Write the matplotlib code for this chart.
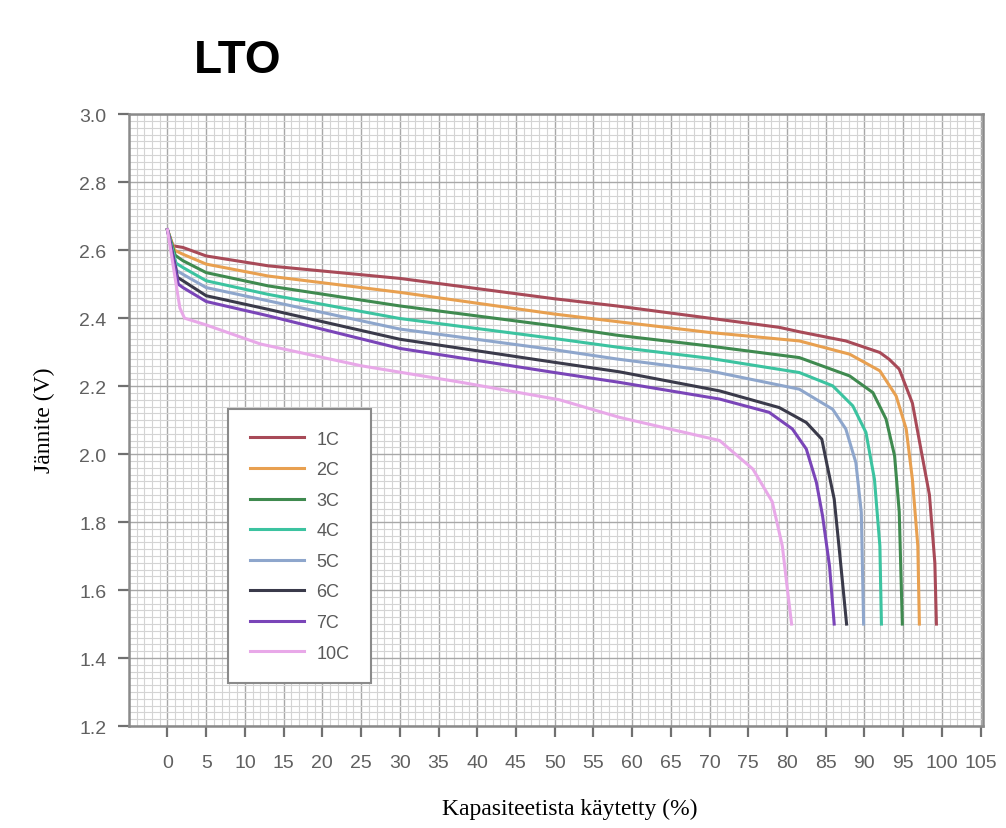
import numpy as np
from matplotlib import pyplot as plt
from matplotlib.ticker import MultipleLocator

# discharge curves, values (x = % capacity used, y = volts)
x_1c = [0, 0.7, 2, 5, 13, 30, 50, 58, 70, 79, 81.6, 87.6, 92.0, 93.2, 94.5, 96.2, 97.5, 98.4, 99.1, 99.3]
y_1c = [2.66, 2.613, 2.608, 2.583, 2.554, 2.517, 2.457, 2.436, 2.40, 2.373, 2.36, 2.333, 2.299, 2.279, 2.25, 2.15, 1.99, 1.88, 1.68, 1.50]

x_2c = [0, 0.9, 2, 5, 13, 30, 50, 58, 70, 81.6, 88.1, 92.0, 94.1, 95.4, 96.2, 96.9, 97.1]
y_2c = [2.66, 2.60, 2.588, 2.559, 2.524, 2.476, 2.412, 2.39, 2.358, 2.333, 2.294, 2.245, 2.171, 2.074, 1.926, 1.73, 1.50]

x_3c = [0, 1.0, 2, 5, 13, 30, 50, 58, 70, 81.6, 88.1, 91.1, 92.8, 93.9, 94.5, 94.9]
y_3c = [2.66, 2.585, 2.569, 2.534, 2.495, 2.436, 2.377, 2.35, 2.318, 2.284, 2.230, 2.181, 2.103, 1.995, 1.83, 1.50]

x_4c = [0, 1.1, 2, 5, 13, 30, 50, 58, 70, 81.6, 85.9, 88.5, 90.2, 91.3, 92.0, 92.2]
y_4c = [2.66, 2.562, 2.549, 2.51, 2.47, 2.399, 2.340, 2.315, 2.282, 2.240, 2.201, 2.142, 2.064, 1.926, 1.73, 1.50]

x_5c = [0, 1.2, 2, 5, 13, 30, 50, 58, 70, 81.6, 85.9, 87.6, 88.9, 89.6, 89.9]
y_5c = [2.66, 2.54, 2.529, 2.49, 2.451, 2.368, 2.307, 2.28, 2.245, 2.191, 2.132, 2.074, 1.975, 1.829, 1.50]

x_6c = [0, 1.3, 2, 5, 13, 30, 50, 58.4, 71.3, 79.0, 82.5, 84.5, 85.2, 86.1, 86.8, 87.7]
y_6c = [2.66, 2.52, 2.510, 2.466, 2.426, 2.338, 2.27, 2.242, 2.186, 2.137, 2.093, 2.044, 1.966, 1.868, 1.71, 1.50]

x_7c = [0, 1.4, 2, 5, 13, 30, 50, 58.4, 71.3, 77.7, 80.7, 82.5, 83.8, 84.6, 85.5, 86.1]
y_7c = [2.66, 2.50, 2.49, 2.449, 2.407, 2.311, 2.24, 2.211, 2.162, 2.123, 2.074, 2.015, 1.917, 1.818, 1.67, 1.50]

x_10c = [0, 1.6, 2.2, 5, 12, 25, 38, 50.6, 58.4, 71.3, 75.6, 78.1, 79.4, 80.1, 80.6]
y_10c = [2.66, 2.43, 2.40, 2.38, 2.324, 2.26, 2.211, 2.16, 2.108, 2.04, 1.956, 1.86, 1.73, 1.594, 1.50]

labels = ['1C', '2C', '3C', '4C', '5C', '6C', '7C', '10C']
colors = ['#a84a58', '#e8a050', '#3f8a4f', '#3cc3a0', '#8ea6cc', '#3a3a4a', '#7a45b8', '#e8a8e8']
xs = [x_1c, x_2c, x_3c, x_4c, x_5c, x_6c, x_7c, x_10c]
ys = [y_1c, y_2c, y_3c, y_4c, y_5c, y_6c, y_7c, y_10c]

plt.rcParams['font.family'] = ['Liberation Sans', 'DejaVu Sans']

fig = plt.figure(figsize=(10.06, 8.29), dpi=100)
ax = fig.add_axes([0.128, 0.123, 0.849, 0.738])

for x, y, c, l in zip(xs, ys, colors, labels):
    ax.plot(x, y, color=c, lw=2.2, label=l, zorder=3, solid_joinstyle='round')

ax.set_xlim(-5, 105.3)
ax.set_ylim(1.2, 3.0)
ax.xaxis.set_minor_locator(MultipleLocator(1))
ax.yaxis.set_minor_locator(MultipleLocator(0.02))
ax.set_xticks(np.arange(0, 106, 5))
ax.set_yticks(np.round(np.arange(1.2, 3.01, 0.2), 1))
ax.yaxis.set_major_formatter(plt.FormatStrFormatter('%.1f'))

ax.grid(which='major', color='#a8a8a8', lw=1.0, zorder=0)
ax.grid(which='minor', color='#d4d4d4', lw=0.8, zorder=0)
ax.set_axisbelow(True)

for s in ax.spines.values():
    s.set_color('#8a8a8a')
    s.set_linewidth(1.8)
ax.tick_params(which='major', length=8, width=1.6, color='#707070',
               labelsize=14, labelcolor='#606060', pad=8)
ax.tick_params(which='minor', length=0)
ax.tick_params(axis='x', pad=12)

ax.set_xlabel('Kapasiteetista käytetty (%)', family='Liberation Serif', fontsize=17)
ax.set_ylabel('Jännite (V)', family='Liberation Serif', fontsize=17)
ax.xaxis.set_label_coords(0.516, -0.118)
ax.yaxis.set_label_coords(-0.086, 0.502)

leg = ax.legend(loc='upper left', bbox_to_anchor=(0.116, 0.518), fontsize=13,
                handlelength=3.0, labelspacing=0.75, borderpad=1.2,
                handletextpad=0.7, fancybox=False, framealpha=1,
                edgecolor='#8a8a8a', borderaxespad=0)
leg.get_frame().set_linewidth(1.5)
for t in leg.get_texts():
    t.set_color('#5a5a5a')

fig.text(0.236, 0.927, 'LTO', fontsize=33, fontweight='bold', ha='center', va='center')

fig.savefig('out.png', dpi=100)
